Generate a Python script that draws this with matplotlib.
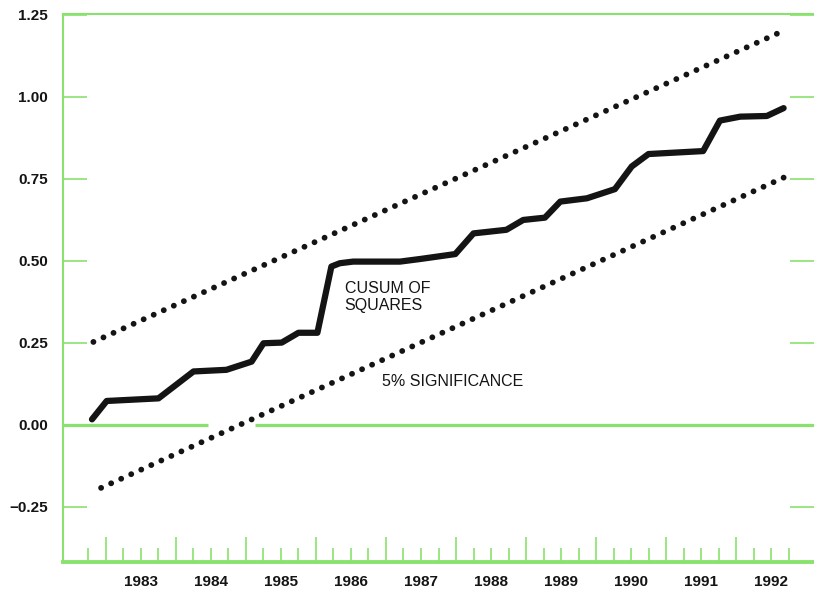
import matplotlib
matplotlib.use("Agg")
import matplotlib.pyplot as plt
from matplotlib.ticker import FixedLocator, FuncFormatter

# ---- data ----
cusum_t = [1982.80, 1983.01, 1983.75, 1984.25, 1984.72, 1985.08, 1985.25, 1985.51,
           1985.75, 1986.02, 1986.22, 1986.34, 1986.53, 1987.20, 1987.49, 1987.99,
           1988.25, 1988.72, 1988.96, 1989.27, 1989.49, 1989.87, 1990.27, 1990.51,
           1990.75, 1991.53, 1991.77, 1992.06, 1992.44, 1992.68]
cusum_v = [0.017, 0.073, 0.081, 0.163, 0.168, 0.193, 0.249, 0.251,
           0.281, 0.281, 0.483, 0.493, 0.498, 0.498, 0.506, 0.521,
           0.584, 0.595, 0.625, 0.632, 0.681, 0.691, 0.719, 0.788,
           0.826, 0.835, 0.928, 0.940, 0.942, 0.966]
upper_t = [1982.82, 1992.70]
upper_v = [0.253, 1.204]
lower_t = [1982.93, 1992.70]
lower_v = [-0.192, 0.756]

years = list(range(1983, 1993))
year_labels = [str(y) for y in years]
yticks = [-0.25, 0.0, 0.25, 0.50, 0.75, 1.00, 1.25]
ytick_labels = ["\u22120.25", "0.00", "0.25", "0.50", "0.75", "1.00", "1.25"]

GREEN = "#8ae26e"
INK = "#141414"

plt.rcParams['font.family'] = ['Liberation Sans', 'DejaVu Sans']

fig = plt.figure(figsize=(8.14, 5.99), dpi=100)
ax = fig.add_axes([63/814, 37/599, 1 - 63/814, (562-14)/599])
ax.set_xlim(1982.386, 1993.114)
ax.set_ylim(-0.418, 1.253)

# zero line with a gap where the lower band crosses
ax.plot([1982.386, 1984.46], [0, 0], color=GREEN, lw=2.3, solid_capstyle='butt', zorder=1)
ax.plot([1985.13, 1993.114], [0, 0], color=GREEN, lw=2.3, solid_capstyle='butt', zorder=1)

# significance bands (dotted)
for t, v in ((upper_t, upper_v), (lower_t, lower_v)):
    ax.plot(t, v, color=INK, lw=4.2, linestyle=(0, (0.01, 1.88)),
            dash_capstyle='round', zorder=3)

# cusum of squares
ax.plot(cusum_t, cusum_v, color=INK, lw=4.5, solid_joinstyle='round',
        solid_capstyle='round', zorder=4)

ax.text(1986.41, 0.39, "CUSUM OF\nSQUARES", fontsize=11.5, ha='left', va='center',
        linespacing=1.2, color=INK)
ax.text(1986.94, 0.131, "5% SIGNIFICANCE", fontsize=11.5, ha='left', va='center',
        color=INK)

# spines
for s in ('left', 'top', 'bottom'):
    ax.spines[s].set_color(GREEN)
ax.spines['left'].set_linewidth(1.5)
ax.spines['top'].set_linewidth(1.5)
ax.spines['bottom'].set_linewidth(2.8)
ax.spines['right'].set_visible(False)

# y ticks
ax.set_yticks(yticks)
ax.set_yticklabels(ytick_labels)
ax.tick_params(axis='y', which='major', direction='in', length=17, width=1.2,
               color=GREEN, left=True, right=True, pad=11,
               labelsize=11)
for lab in ax.get_yticklabels():
    lab.set_fontweight('bold')
    lab.set_color(INK)

# x ticks: tall at year starts, short at quarters, labels at mid-year
ax.xaxis.set_major_locator(FixedLocator([float(y) for y in years]))
ax.xaxis.set_major_formatter(FuncFormatter(lambda v, p: ""))
quarters = [1982.75] + [y + q for y in years for q in (0.25, 0.5, 0.75)]
ax.xaxis.set_minor_locator(FixedLocator(quarters))
lab_map = {y + 0.5: s for y, s in zip(years, year_labels)}

def minor_fmt(v, p):
    for k, s in lab_map.items():
        if abs(v - k) < 1e-6:
            return s
    return ""

ax.xaxis.set_minor_formatter(FuncFormatter(minor_fmt))
ax.tick_params(axis='x', which='major', direction='in', length=18, width=1.2,
               color=GREEN, bottom=True, top=False)
ax.tick_params(axis='x', which='minor', direction='in', length=10, width=1.2,
               color=GREEN, bottom=True, top=False, pad=9, labelsize=11)
for lab in ax.xaxis.get_minorticklabels():
    lab.set_fontweight('bold')
    lab.set_color(INK)

fig.savefig("out.png", dpi=100)
